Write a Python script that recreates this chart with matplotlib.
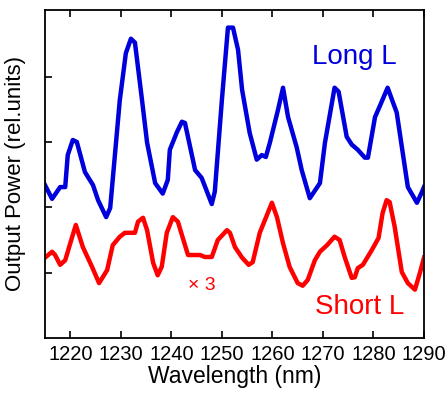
import numpy as np
import matplotlib
matplotlib.use("Agg")
import matplotlib.pyplot as plt

# Long L (blue) trace
wl_long = [1214.8, 1216.4, 1218.0, 1219.0, 1219.5, 1220.5, 1221.3, 1222.9, 1224.5, 1225.5,
           1227.1, 1227.9, 1229.8, 1231.0, 1232.0, 1232.8, 1234.2, 1235.2, 1236.8, 1238.3,
           1239.3, 1239.7, 1241.1, 1242.1, 1242.7, 1244.7, 1246.0, 1248.0, 1248.6, 1250.0,
           1251.2, 1252.2, 1253.2, 1254.0, 1255.5, 1256.9, 1257.9, 1258.7, 1259.5, 1261.1,
           1262.1, 1263.1, 1264.8, 1265.8, 1267.4, 1269.4, 1270.4, 1272.3, 1273.1, 1274.7,
           1275.7, 1276.9, 1278.3, 1278.9, 1280.3, 1281.2, 1282.8, 1284.6, 1286.8, 1288.6,
           1289.5, 1290.0]
p_long = [2.37, 2.13, 2.31, 2.31, 2.80, 3.03, 3.00, 2.54, 2.34, 2.11,
          1.85, 1.99, 3.64, 4.36, 4.58, 4.52, 3.64, 2.99, 2.37, 2.21,
          2.42, 2.88, 3.15, 3.31, 3.29, 2.57, 2.45, 2.05, 2.24, 3.64,
          4.75, 4.75, 4.41, 3.80, 3.14, 2.73, 2.80, 2.77, 2.99, 3.49,
          3.83, 3.38, 2.92, 2.57, 2.14, 2.37, 2.99, 3.83, 3.77, 3.08,
          2.96, 2.88, 2.76, 2.76, 3.38, 3.54, 3.83, 3.45, 2.31, 2.07,
          2.22, 2.31]

# Short L (red) trace, x3
wl_short = [1215.0, 1216.4, 1217.0, 1218.0, 1219.0, 1220.0, 1221.1, 1222.5, 1224.3, 1225.7,
            1227.3, 1228.4, 1229.8, 1230.8, 1232.8, 1233.4, 1234.4, 1235.2, 1236.4, 1237.3,
            1238.1, 1239.1, 1240.3, 1241.3, 1241.8, 1243.3, 1244.1, 1245.7, 1246.6, 1248.0,
            1249.2, 1251.0, 1251.6, 1252.6, 1254.0, 1255.3, 1256.1, 1257.5, 1259.9, 1260.9,
            1262.1, 1263.4, 1265.0, 1266.0, 1267.0, 1268.4, 1269.4, 1270.8, 1272.3, 1273.3,
            1274.3, 1275.7, 1276.3, 1276.9, 1277.9, 1279.7, 1281.0, 1281.8, 1282.6, 1283.2,
            1284.2, 1285.6, 1286.8, 1288.2, 1289.2, 1290.0]
p_short = [1.23, 1.32, 1.27, 1.12, 1.19, 1.45, 1.73, 1.39, 1.09, 0.84,
           1.04, 1.42, 1.55, 1.61, 1.61, 1.78, 1.84, 1.65, 1.15, 0.96,
           1.09, 1.61, 1.85, 1.78, 1.65, 1.27, 1.27, 1.27, 1.24, 1.24,
           1.50, 1.65, 1.61, 1.39, 1.23, 1.12, 1.16, 1.61, 2.07, 1.85,
           1.45, 1.09, 0.84, 0.80, 0.89, 1.19, 1.32, 1.42, 1.55, 1.50,
           1.24, 0.92, 0.93, 1.07, 1.12, 1.35, 1.53, 1.91, 2.11, 2.08,
           1.70, 1.01, 0.84, 0.74, 1.00, 1.23]

x_ticks = [1220, 1230, 1240, 1250, 1260, 1270, 1280, 1290]

plt.rcParams['font.family'] = ['Liberation Sans', 'DejaVu Sans']

fig = plt.figure(figsize=(4.46, 3.95), dpi=100)
ax = fig.add_axes([0.1009, 0.1443, 0.8498, 0.8304])

ax.plot(wl_long, p_long, color='#0000dd', lw=3.2, solid_joinstyle='round')
ax.plot(wl_short, p_short, color='#ff0000', lw=3.2, solid_joinstyle='round')

ax.set_xlim(1215, 1290)
ax.set_ylim(0, 5.02)
ax.set_xticks(x_ticks)
ax.set_yticks([1, 2, 3, 4])
ax.set_yticklabels([])
ax.tick_params(axis='x', direction='in', length=5, width=1.2, top=True, labelsize=14.5, pad=5)
ax.tick_params(axis='y', direction='in', length=5, width=1.2, right=False)
for s in ax.spines.values():
    s.set_linewidth(1.3)

ax.set_xlabel('Wavelength (nm)', fontsize=16.5, labelpad=1)
ax.set_ylabel('Output Power (rel.units)', fontsize=16, labelpad=10)

ax.text(1276.3, 4.30, 'Long L', color='#0000dd', fontsize=20, ha='center', va='center')
ax.text(1277.3, 0.47, 'Short L', color='#ff0000', fontsize=20, ha='center', va='center')
ax.text(1246.0, 0.81, '× 3', color='#ff0000', fontsize=14, ha='center', va='center')

fig.savefig('out.png', dpi=100)
